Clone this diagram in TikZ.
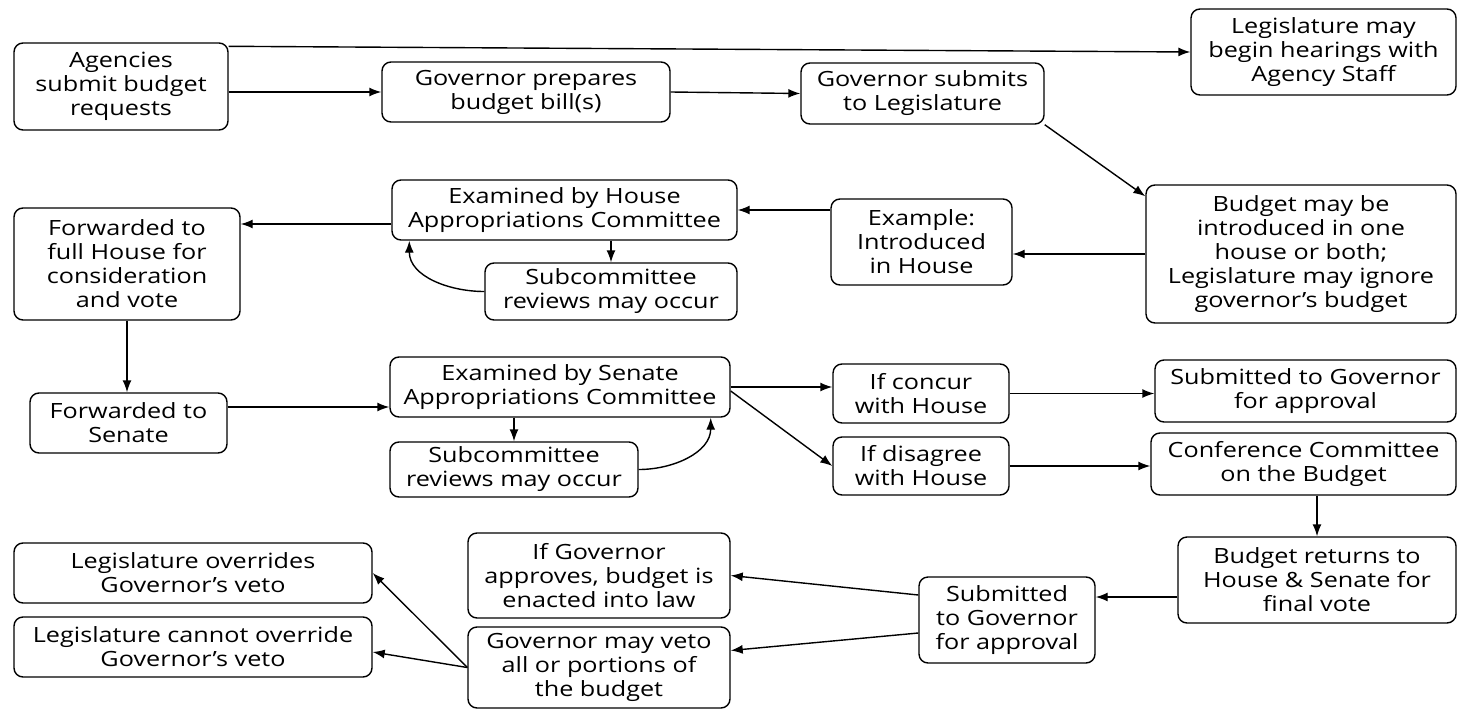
\documentclass[tikz,border=0pt]{standalone}
\usepackage{fontspec}
\setmainfont{Open Sans}[FakeStretch=1.2]
\usetikzlibrary{arrows.meta}

\begin{document}
\begin{tikzpicture}[x=1pt, y=-1pt, line width=1.4pt, >={Latex[length=12pt,width=9pt]},
    box/.style={draw, rounded corners=9pt, align=center, inner sep=2pt,
        font=\fontsize{21}{24}\selectfont}]

\useasboundingbox (0,0) rectangle (1458,709);

% Top row
\node[box, minimum width=214pt, minimum height=87pt] (agencies) at (121,86.5) {Agencies\\submit budget\\requests};
\node[box, minimum width=288pt, minimum height=60pt] (govprep) at (526,92) {Governor prepares\\budget bill(s)};
\node[box, minimum width=243pt, minimum height=61pt] (govsub) at (922.5,93.5) {Governor submits\\to Legislature};
\node[box, minimum width=265pt, minimum height=86pt] (hearings) at (1323.5,52) {Legislature may\\begin hearings with\\Agency Staff};

% House row
\node[box, minimum width=310pt, minimum height=138pt] (maybe) at (1301,254) {Budget may be\\introduced in one\\house or both;\\Legislature may ignore\\governor's budget};
\node[box, minimum width=181pt, minimum height=86pt] (example) at (921.5,242) {Example:\\Introduced\\in House};
\node[box, minimum width=345pt, minimum height=60pt] (exhouse) at (564.5,210) {Examined by House\\Appropriations Committee};
\node[box, minimum width=252pt, minimum height=57pt] (subhouse) at (611,291.5) {Subcommittee\\reviews may occur};
\node[box, minimum width=226pt, minimum height=112pt] (fullhouse) at (127,264) {Forwarded to\\full House for\\consideration\\and vote};

% Senate row
\node[box, minimum width=197pt, minimum height=60pt] (senate) at (128.5,423) {Forwarded to\\Senate};
\node[box, minimum width=340pt, minimum height=60pt] (exsenate) at (560,387) {Examined by Senate\\Appropriations Committee};
\node[box, minimum width=248pt, minimum height=55pt] (subsenate) at (514,469.5) {Subcommittee\\reviews may occur};
\node[box, minimum width=176pt, minimum height=59pt] (concur) at (921,393.5) {If concur\\with House};
\node[box, minimum width=176pt, minimum height=58pt] (disagree) at (921,466) {If disagree\\with House};
\node[box, minimum width=301pt, minimum height=62pt] (subgov) at (1305.5,391) {Submitted to Governor\\for approval};
\node[box, minimum width=305pt, minimum height=62pt] (conference) at (1303.5,464) {Conference Committee\\on the Budget};

% Bottom row
\node[box, minimum width=278pt, minimum height=86pt] (returns) at (1317,580) {Budget returns to\\House \& Senate for\\final vote};
\node[box, minimum width=176pt, minimum height=86pt] (subgovb) at (1007,620) {Submitted\\to Governor\\for approval};
\node[box, minimum width=262pt, minimum height=85pt] (approves) at (599,575.5) {If Governor\\approves, budget is\\enacted into law};
\node[box, minimum width=262pt, minimum height=81pt] (veto) at (599,667.5) {Governor may veto\\all or portions of\\the budget};
\node[box, minimum width=358pt, minimum height=60pt] (overrides) at (193,573) {Legislature overrides\\Governor's veto};
\node[box, minimum width=358pt, minimum height=60pt] (cannot) at (193,647) {Legislature cannot override\\Governor's veto};

% Top arrows
\coordinate (top_l) at ([yshift=-4pt]agencies.north east);
\draw [->] (top_l) -- (hearings.west);
\draw [->] (govprep.west -| agencies.east) -- (govprep.west);
\draw [->] (govprep.east) -- (govsub.west);
\draw [->] (govsub.south east) -- ([yshift=-12pt]maybe.north west);

% House arrows
\draw [->] (maybe.west) -- (maybe.west -| example.east);
\draw [->] (exhouse.east -| example.west) -- (exhouse.east);
\coordinate (house_l) at ([yshift=-14pt]exhouse.west);
\draw [->] (house_l) -- (house_l -| fullhouse.east);
\draw [->] (exhouse.south -| subhouse.north) -- (subhouse.north);
\draw [->] (subhouse.west) to[out=180, in=-90] ([xshift=18pt]exhouse.south west);
\draw [->] (fullhouse.south) -- (fullhouse.south |- senate.north);

% Senate arrows
\coordinate (senate_r) at ([yshift=16pt]senate.east);
\draw [->] (senate_r) -- (senate_r -| exsenate.west);
\draw [->] (exsenate.south -| subsenate.north) -- (subsenate.north);
\draw [->] (subsenate.east) to[out=0, in=-90] ([xshift=-20pt]exsenate.south east);
\draw [->] (exsenate.east) -- (exsenate.east -| concur.west);
\draw [->] ([yshift=-4pt]exsenate.east) -- (disagree.west);
\draw [->] (concur.east) -- (concur.east -| subgov.west);
\draw [->] (disagree.east) -- (disagree.east -| conference.west);
\draw [->] (returns.north |- conference.south) -- (returns.north);

% Bottom arrows
\coordinate (returns_l) at ([yshift=-17pt]returns.west);
\draw [->] (returns_l) -- (returns_l -| subgovb.east);
\draw [->] ([yshift=25pt]subgovb.west) -- (approves.east);
\draw [->] ([yshift=-13pt]subgovb.west) -- ([yshift=17pt]veto.east);
\draw [->] (veto.west) -- (overrides.east);
\draw [->] (veto.west) -- ([yshift=-5pt]cannot.east);

\end{tikzpicture}
\end{document}
